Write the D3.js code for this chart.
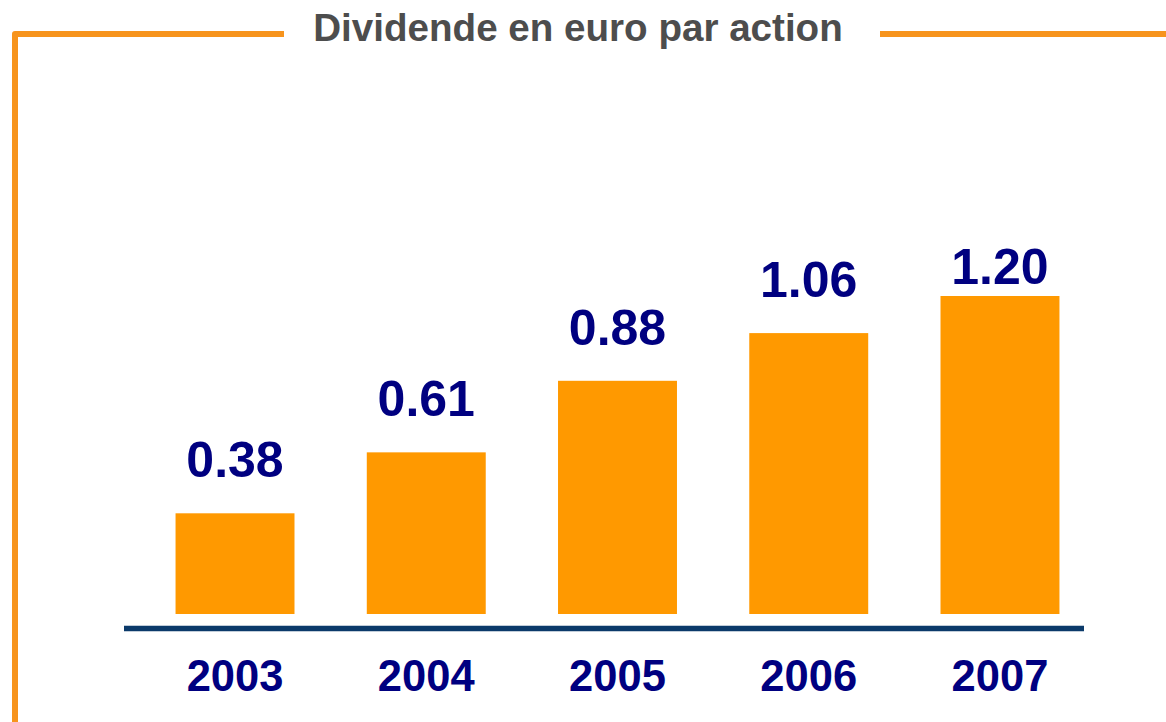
<!DOCTYPE html>
<html>
<head>
<meta charset="utf-8">
<script src="https://cdn.jsdelivr.net/npm/d3@7"></script>
<style>
  html, body { margin: 0; padding: 0; background: #ffffff; }
  svg { display: block; }
</style>
</head>
<body>
<div id="chart"></div>
<script>
// ---- data ----
const title = "Dividende en euro par action";
const years = ["2003", "2004", "2005", "2006", "2007"];
const dividends = [0.38, 0.61, 0.88, 1.06, 1.20];
const valueLabels = ["0.38", "0.61", "0.88", "1.06", "1.20"];

// ---- layout ----
const W = 1166, H = 722;
const svg = d3.select("#chart").append("svg")
  .attr("width", W).attr("height", H);

const frameColor = "#f7941d";
const barColor = "#ff9900";
const labelColor = "#000080";
const axisColor = "#0b3a6a";
const font = "'Liberation Sans', Arial, sans-serif";

const x = d3.scaleBand()
  .domain(years)
  .range([139.4, 1095.6])
  .paddingInner(0.378)
  .paddingOuter(0.189);

const y = d3.scaleLinear()
  .domain([0, 1])
  .range([614, 349]);

// frame
svg.append("path")
  .attr("d", `M15,${H} L15,34 L284,34`)
  .attr("fill", "none")
  .attr("stroke", frameColor)
  .attr("stroke-width", 6)
  .attr("stroke-linejoin", "round");
svg.append("line")
  .attr("x1", 880).attr("x2", W)
  .attr("y1", 34).attr("y2", 34)
  .attr("stroke", frameColor)
  .attr("stroke-width", 6);

// title
svg.append("text")
  .attr("x", 578).attr("y", 41)
  .attr("text-anchor", "middle")
  .attr("font-family", font)
  .attr("font-weight", "bold")
  .attr("font-size", 38.6)
  .attr("fill", "#4d4d4d")
  .text(title);

// bars
svg.selectAll("rect.bar")
  .data(years)
  .enter().append("rect")
  .attr("class", "bar")
  .attr("x", d => x(d))
  .attr("width", x.bandwidth())
  .attr("y", (d, i) => y(dividends[i]))
  .attr("height", (d, i) => y(0) - y(dividends[i]))
  .attr("fill", barColor);

// value labels (clamped to top of plot area)
const plotTopBaseline = 284;
svg.selectAll("text.val")
  .data(years)
  .enter().append("text")
  .attr("class", "val")
  .attr("x", d => x(d) + x.bandwidth() / 2)
  .attr("y", (d, i) => Math.max(y(dividends[i]) - 36, plotTopBaseline))
  .attr("text-anchor", "middle")
  .attr("font-family", font)
  .attr("font-weight", "bold")
  .attr("font-size", 50)
  .attr("fill", labelColor)
  .text((d, i) => valueLabels[i]);

// axis line
svg.append("line")
  .attr("x1", 124).attr("x2", 1084)
  .attr("y1", 628.5).attr("y2", 628.5)
  .attr("stroke", axisColor)
  .attr("stroke-width", 5.5);

// category labels via axis
const xAxis = d3.axisBottom(x).tickSize(0).tickPadding(0);
const gx = svg.append("g")
  .attr("transform", "translate(0,628.5)")
  .call(xAxis);
gx.select(".domain").remove();
gx.selectAll("text")
  .attr("dy", null)
  .attr("y", 62.5)
  .attr("font-family", font)
  .attr("font-weight", "bold")
  .attr("font-size", 43.5)
  .attr("fill", labelColor);
</script>
</body>
</html>
